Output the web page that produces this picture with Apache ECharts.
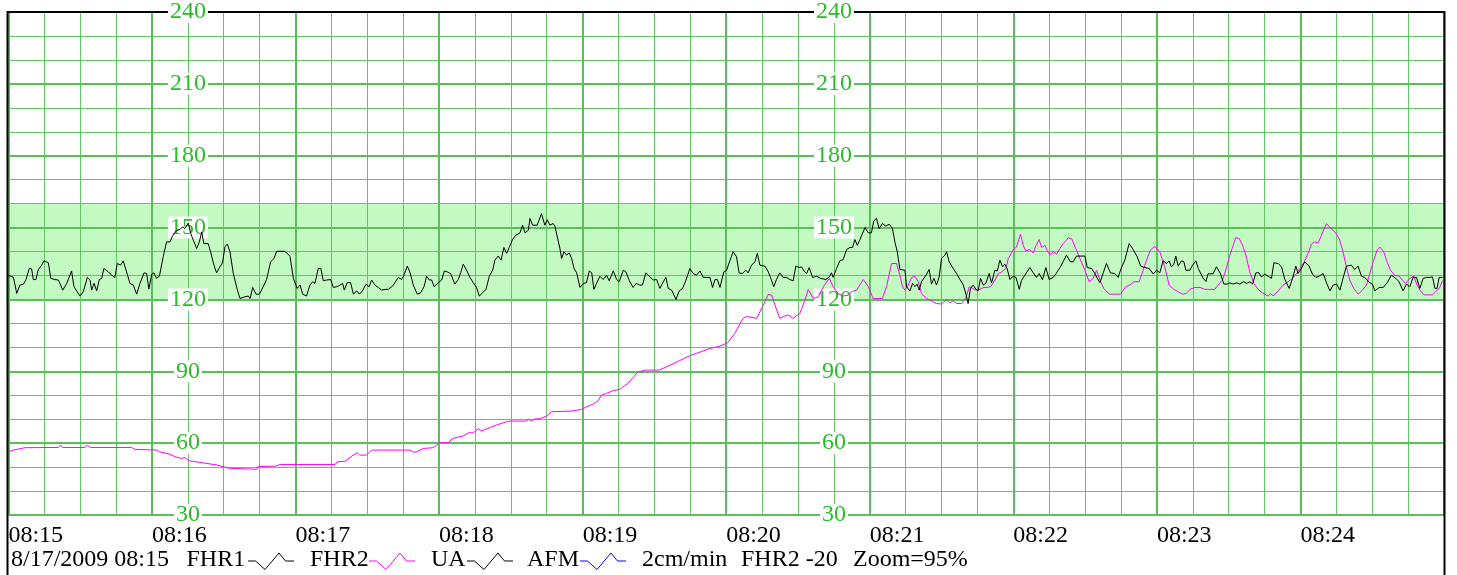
<!DOCTYPE html>
<html>
<head>
<meta charset="utf-8">
<script src="https://cdn.jsdelivr.net/npm/echarts@6/dist/echarts.min.js"></script>
<style>
html,body{margin:0;padding:0;background:#fff;}
#chart{width:1457px;height:575px;}
</style>
</head>
<body>
<div id="chart"></div>
<script>
// ---- data (time in seconds from 08:15:00, value in bpm) ----
const timeLabels = ['08:15','08:16','08:17','08:18','08:19','08:20','08:21','08:22','08:23','08:24'];
const yTicks = [30, 60, 90, 120, 150, 180, 210, 240];
const bandLow = 120;
const bandHigh = 160;

const fhr1 = [
[0,130.1],[2.1,129.2],[3.5,122.5],[4.8,126],[6.2,126.3],[7.4,128.3],[8.7,132.9],[9.7,132.8],[10.4,128.3],[11.5,128.3],
[12.5,132.5],[13.9,134.3],[14.9,136.1],[16.7,135.3],[17.7,128.8],[19.5,128.3],[20.9,128.1],[22.7,123.9],[24.4,126.7],[26.4,131.9],
[27.4,125.3],[29.9,121.4],[31.3,123.2],[33,129.2],[34.1,128.1],[34.8,123.9],[35.8,126.7],[36.9,123.6],[38,128.3],[39,128.8],
[39.9,132.9],[41.8,131.5],[43.6,129.7],[44.5,129.2],[45.5,135],[46.9,134.3],[48,136.1],[49.4,131.5],[50.8,126.7],[52.2,126],
[53.6,122.2],[55,126.7],[56.7,131.1],[57.8,130.8],[58.7,124.3],[59.9,130.5],[60.8,131.1],[61.9,128.8],[63.1,129.7],[64.7,137.8],
[66.1,144],[67.5,144],[68.6,146.4],[70.3,148.9],[71.7,149.2],[72.8,150.3],[73.8,149.6],[75.2,151.9],[76.2,147.5],[77.3,144.7],
[78.7,141.3],[79.8,144],[80.8,148.2],[81.7,143.3],[83.5,143.3],[84.5,139.9],[85.9,134.3],[87,131.1],[88.4,133.6],[89.5,135.3],
[90.5,142],[91.5,143.1],[92.6,139.9],[94,130.8],[95.7,123.9],[96.8,120.4],[98.9,121.1],[100.3,121.4],[101,120.4],[102.1,125],
[103.5,122.2],[104.9,122.2],[106.5,125.3],[107.9,128.3],[109.6,135.7],[111,137.1],[112.1,140.1],[115.6,140.1],[117.7,138],[119.1,128.8],
[120.7,124.6],[121.9,126],[123,122.2],[124.6,121.4],[126,126],[127.2,127.4],[128.1,126.7],[129.5,132.9],[130.6,132.9],[131.6,127.8],
[133,128.1],[134.7,128.3],[135.8,125],[137.2,125.3],[138.3,125.8],[139.7,126.7],[140.4,123.9],[141.6,127],[143,127],[144.2,122.2],
[145.5,123.6],[146.7,122.2],[148,123.6],[149.4,126.3],[150.8,125.3],[151.8,128.1],[153.2,126],[154.6,125],[156,123.9],[157.4,124.2],
[158.8,124.2],[160.6,125.6],[163,129.2],[164.3,128.3],[165.3,130.1],[166.7,133.9],[167.8,131.5],[169.2,126],[170.9,122.2],[172.3,122.8],
[173.7,125.3],[174.8,129.7],[175.9,128.1],[176.9,128.1],[177.9,125.3],[179.7,127],[181.1,128.1],[182.2,131.9],[183.4,131.5],[184.8,130.8],
[186.6,126.4],[188,128.3],[189,131.1],[190.1,134.7],[191.5,132.2],[192.9,129.2],[194.3,127],[195.7,124.9],[196.8,121.4],[198.2,122.8],
[199.6,124.2],[201,129.7],[202.4,132.2],[203.3,136.4],[204.7,138.1],[205.9,136.4],[207.1,141.7],[208.2,139.2],[209.3,141.7],[210.7,145],
[212.1,146.8],[213.8,147.8],[214.9,151],[215.9,147.8],[217.3,148.9],[218,153.8],[219.1,151],[221,151],[222.8,155.8],[224.2,151],
[225.2,153.3],[226.3,151],[227.7,151.7],[228.4,150.6],[229.4,146.1],[230.5,141.3],[231.2,137.1],[232.2,139.9],[233.3,138.5],[234.4,139.4],
[235.4,137.1],[236.4,132.9],[237.5,131.1],[238.9,125],[240.3,126.7],[241.6,127],[242.8,131.9],[243.8,131.1],[244.7,124.2],[245.8,126.7],
[247.2,129.7],[248.6,128.3],[250,130.1],[251.1,127.8],[252.8,131.9],[254.2,128.3],[255.3,127.4],[257,132.2],[258.1,131.5],[259.5,127.8],
[261.1,125],[262.5,126.7],[263.7,126],[265,126],[266.4,131.1],[267.8,129.7],[269.5,128.1],[270.9,128.3],[272.3,124.6],[273.7,127.4],
[274.8,129.2],[275.8,124.6],[277.2,123.9],[279,120],[280.4,123.6],[281.8,124.6],[283.2,128.1],[284.8,132.9],[286.2,130.8],[287.6,130.1],
[289,131.9],[290.4,129.2],[291.8,129.2],[293.2,129.2],[294.3,125],[295.3,128.3],[296.3,128.3],[297.4,125],[299,131.5],[300.2,132.2],
[301.5,136.1],[302.9,139.9],[304.3,137.8],[305.4,131.1],[306.8,130.8],[308.2,132.2],[309.2,131.1],[310.6,134.3],[312,135.7],[313,139.2],
[314.1,134.3],[316.2,133.9],[317.6,131.5],[318.5,129.2],[319.9,125.3],[321,128.3],[322.4,131.1],[323.8,129.2],[325.2,129.2],[326.6,128.3],
[328,127.8],[329.1,133.9],[330.5,133.3],[331.5,133.6],[332.5,131.9],[333.6,130.8],[334.7,133.3],[336.1,129.2],[337.8,129.7],[339.4,128.8],
[341.7,128.3],[343.1,129.4],[344,131.1],[344.7,129.2],[346.1,132.9],[347.5,136.1],[348.9,136.7],[350.3,140.8],[351.7,141.7],[352.8,141.7],
[353.8,145],[354.8,142.6],[355.9,145],[358,150],[359.4,147.8],[360.7,147.8],[361.7,152.8],[362.8,153.8],[363.9,149.6],[365.3,151.7],
[366.7,150.6],[368.1,151.4],[369.5,149.6],[370.5,144],[371.5,139.9],[372.6,132.5],[374.7,132.2],[375.4,125.3],[376.8,123.6],[377.9,126.7],
[378.9,125.3],[379.8,126.4],[380.7,123.9],[381.6,127.4],[383.5,130.1],[384.8,132.5],[385.8,126.4],[386.8,128.8],[387.9,126],[389,129.4],
[390,137.1],[391.4,138.5],[392.1,139.9],[393.2,135.7],[394.9,132.9],[396.3,130.8],[397.7,128.3],[399.1,126],[400.2,122.2],[401.1,118.3],
[402.1,124.6],[403.2,126],[404.4,124.2],[405.3,123.6],[406.3,128.8],[407.4,126],[408.5,126.7],[409.9,130.8],[410.9,126.9],[412.3,132.2],
[413.3,131.9],[414.4,136.4],[415.5,133.6],[416.5,134.7],[417.4,132.9],[418.6,128.3],[419.9,129.7],[421.1,129.2],[422.5,124.2],[423.4,127.9],
[424.8,130.1],[426.9,133.3],[428.3,131.1],[429.7,129.2],[430.8,130.8],[432.2,128.3],[433.6,133.3],[435,128.3],[436.7,129.2],[438.1,131.1],
[439.5,133.3],[440.8,135.7],[442.2,138.5],[443.9,135.7],[445,135.7],[446.4,138.1],[449.9,138.1],[450.9,133.3],[452.7,132.9],[454.1,130.8],
[455.1,128.8],[456.2,127],[457.6,131.1],[458.9,135],[460.6,131.1],[462.4,130.8],[463.8,129.2],[465.2,133.3],[466.6,136.4],[468.4,143.3],
[470.1,140.8],[471.8,137.8],[473.2,133.9],[475,133.3],[476.8,132.9],[478.5,130.6],[479.9,132.2],[481.2,131.1],[482.6,136.1],[484,135],
[485.1,136.1],[486.1,133.6],[487.1,134.7],[487.9,138.1],[488.9,133.9],[490.3,136.1],[491.3,135.7],[492.1,132.2],[493.8,132.2],[494.9,134.3],
[496.3,136.1],[497.3,132.9],[498,132.2],[499.3,128.9],[500.5,127.5],[501.4,130.7],[503.5,130.7],[504.9,133.6],[506.6,130.7],[508,126.4],
[509.4,126.4],[510.5,126.9],[511.9,126.4],[513.3,126.9],[514.7,126.4],[516.1,127.4],[517.5,126.7],[518.9,127.4],[520,126.4],[521.4,131.1],
[522.7,131.1],[523.7,129.4],[525.1,130.6],[526.9,129.4],[527.9,128.8],[528.9,135.3],[530.7,135],[532.1,133.6],[533.5,128.3],[535.3,124.6],
[536.7,128.8],[538.1,133.9],[539,130.8],[540.4,132.9],[541.8,135.7],[542.5,136.4],[543.6,133.9],[545,130.6],[546.4,129.2],[547.8,129.7],
[549.5,130.8],[550.9,126.9],[552.3,123.6],[553.7,126],[555.1,126.4],[556.5,123.9],[557.8,128.8],[559.2,133.9],[561.3,134.3],[562.7,132.5],
[564.1,133.9],[565.5,129.7],[566.9,129.2],[569,126.9],[570.1,126.4],[571.1,123.6],[572.9,125],[574.6,125],[576.2,126.9],[578,130.1],
[579.9,128.8],[581.2,127.4],[582.9,123.6],[584.3,126.4],[585.7,125.3],[587.1,129.2],[588.5,129.2],[589.9,124.6],[591.3,128.8],[592.7,129.2],
[594.1,129.2],[595.2,129.4],[596.2,124.6],[597.1,124.6],[598,129.2],[599.4,129.2]
];

const fhr2 = [
[0,56.4],[2.1,57.1],[6.9,58.1],[20.9,58.2],[21.6,59.1],[22.7,58.2],[32,58.2],[33,59.1],[34.4,58.2],[51.5,58.2],
[52.9,57.4],[62,57.1],[63.1,56.4],[67.5,55.4],[69.6,54.3],[72.4,53.6],[73.8,54],[75.2,52.7],[81.2,51.8],[87,50.9],
[92.3,49.5],[103.8,49.1],[104.4,50.2],[111.8,50.4],[112.4,51],[113.5,51.1],[136.5,51.1],[137.4,52.2],[140.7,52.4],[143.5,54.6],
[145.8,56],[146.9,55],[149.7,55],[151.8,57.1],[167.8,57.1],[169.2,56.3],[170.6,56.3],[173.4,57.8],[177.6,58.1],[180.1,60.2],
[183.8,60.2],[185.7,62],[190.1,63],[192.2,64.3],[194.3,64.3],[196.4,66],[197.8,65.1],[199.9,66],[202,66.8],[204.7,67.8],
[208.2,68.9],[209.6,69.2],[216.6,69.2],[217.3,70.1],[218.3,69.2],[220.1,70.1],[222.1,70.2],[224.9,71.3],[227,73.1],[235.4,73.4],
[239.6,74.1],[241.7,75.2],[244.4,76.3],[246.5,77.7],[247.9,80.1],[250,80.8],[252.8,81.9],[255.6,82.5],[256.6,83.3],[259,85],
[260.1,86.4],[263,89.5],[266,90.5],[272,90.5],[276.5,92.5],[280.6,94.5],[284.8,96.5],[289,98],[293.2,99.5],[297.4,100.5],
[300.7,102],[303.7,106],[305.8,110],[307.1,112.1],[308.5,112.9],[312.7,112.1],[315.5,117.6],[317.6,122.1],[319,121.8],[320.4,117.6],
[322.4,112.1],[324.5,113.1],[325.9,113.5],[328,112.1],[330.8,114.2],[332.9,119.7],[334.3,124.2],[336.4,120.4],[338.5,121.1],[340.6,125.3],
[343.1,128.8],[344.7,125.3],[346.8,122.5],[348.9,121.4],[351,121.8],[352.4,123.2],[354.5,123.9],[357.3,128.3],[359.4,125.3],[361.4,120.4],
[365.3,120.4],[367,125.3],[369.1,135],[371.2,135],[372.6,130.1],[373.7,125.3],[374.7,123.9],[376.1,126],[377.5,129.2],[378.9,129.7],
[380.3,127.4],[381.6,122.5],[383.7,120.4],[385.8,119.4],[387.9,118.3],[390,118.1],[392.1,120],[393.5,118.6],[394.9,119.4],[396.3,118.3],
[398.4,118.3],[400.2,120.8],[401.6,125.3],[403,124.6],[404.4,123.9],[406,124.2],[407.7,125],[409.1,125],[410.5,125.3],[412.3,128.1],
[413.7,130.8],[415.1,131.5],[416.9,132.9],[417.9,137.1],[419.9,140.6],[421.3,141.9],[423,147.2],[424.1,142.6],[425.2,140.3],[426.9,140.8],
[428.3,139.4],[429.4,142.2],[430.8,145],[431.8,141.7],[433.2,142.6],[434.2,140.3],[435.3,138.5],[436.7,139.9],[438.1,138.9],[439.5,141.3],
[440.8,143.3],[442.2,144.7],[442.9,145.8],[444.3,145.4],[445,145],[446.4,140.6],[447.8,137.1],[449.9,132.2],[451.7,127.4],[453.4,128.8],
[454.8,132.2],[456.2,128.1],[457.8,124.6],[460.1,122.2],[462.4,122.2],[464.8,122.2],[467,125.3],[468.7,126],[470.4,127.4],[472.6,127.4],
[474,131.5],[475.7,136.4],[477.3,140.6],[479.1,142.2],[481.2,139.9],[483.3,133.6],[485.1,126],[487.1,124.2],[488.9,123.2],[490.7,122.2],
[492.4,122.5],[493.8,124.2],[495.9,125],[498,125],[500,124.2],[502.1,124.2],[504.2,124.2],[505.6,126],[507.4,128.1],[508.8,132.2],
[510.5,138.5],[511.9,142.6],[513,145.8],[514.4,145.4],[515.8,142.6],[517.2,138.5],[518.8,131.5],[520.5,126.7],[522.3,124.2],[524.4,122.5],
[526.5,121.4],[527.5,122.5],[528.6,121.4],[530.7,123.6],[532.8,126],[534.9,127.4],[536.7,128.8],[538.4,130.8],[540,133.3],[541.4,135.3],
[543.2,139.2],[544.6,143.1],[546,144],[547.4,143.6],[548.8,146.8],[549.8,149.2],[550.9,151.7],[552.3,150],[554.4,148.2],[556.2,145.4],
[557.6,140.6],[559.2,133.6],[560.6,128.1],[562.3,124.6],[564.1,122.2],[565.9,123.9],[567.6,126],[569,130.8],[570.4,135.7],[572.1,140.8],
[573.2,141.9],[574.8,139.9],[576.2,135.7],[577.6,132.2],[579.4,130.1],[581.3,129.7],[582.6,128.1],[584,126.7],[585.7,128.8],[587.4,129.7],
[588.8,125.8],[590.2,123.6],[591.6,121.9],[593.4,121.9],[595.2,121.9],[596.6,123.3],[598.2,125],[599.4,127.8]
];

const headerText = '8/17/2009 08:15';
const legendItems = [
  { label: 'FHR1', color: '#000000' },
  { label: 'FHR2', color: '#ff00ff' },
  { label: 'UA',   color: '#000000' },
  { label: 'AFM',  color: '#0000ff' }
];
const footerItems = ['2cm/min', 'FHR2 -20', 'Zoom=95%'];

// ---- layout / style ----
const FONT = '"Liberation Serif", "Times New Roman", serif';
const LABEL_GREEN = '#28bd28';
const MAJOR = '#5cbd5c';
const MINOR = '#62c462';
const BAND = '#c2fac2';
const footY = 560;
const headerX = 11;
const legendTextX = [186.5, 310, 431, 527];
const legendIconX = [248, 369, 467, 580];
const footerX = [642, 741, 853];
const iconShape = [[0,0],[7.5,0],[17,8.5],[31,-8],[37.5,0],[46,0]];

const chart = echarts.init(document.getElementById('chart'));

function labelAxis(offset) {
  return {
    type: 'value', min: yTicks[0], max: yTicks[yTicks.length - 1], interval: 30,
    position: 'left', offset: offset, z: 3,
    axisLine: { show: false }, axisTick: { show: false }, splitLine: { show: false },
    axisLabel: {
      show: true, margin: 0, align: 'center', verticalAlign: 'middle',
      color: LABEL_GREEN, fontSize: 24, fontFamily: FONT,
      backgroundColor: '#ffffff', padding: [1, 2, 1, 2], lineHeight: 20
    }
  };
}

const graphics = [
  { type: 'polyline', z: 1, silent: true,
    shape: { points: [[7.5, 575], [7.5, 12], [1444.5, 12], [1444.5, 575]] },
    style: { stroke: '#000', lineWidth: 2, fill: null } },
  { type: 'text', z: 5, x: headerX, y: footY,
    style: { text: headerText, fontSize: 24, fontFamily: FONT, fill: '#000', verticalAlign: 'middle' } }
];
legendItems.forEach((it, i) => {
  graphics.push({ type: 'text', z: 5, x: legendTextX[i], y: footY,
    style: { text: it.label, fontSize: 24, fontFamily: FONT, fill: '#000', verticalAlign: 'middle' } });
  graphics.push({ type: 'polyline', z: 5, x: legendIconX[i], y: footY + 1,
    shape: { points: iconShape }, style: { stroke: it.color, lineWidth: 1, fill: null } });
});
footerItems.forEach((t, i) => {
  graphics.push({ type: 'text', z: 5, x: footerX[i], y: footY,
    style: { text: t, fontSize: 24, fontFamily: FONT, fill: '#000', verticalAlign: 'middle' } });
});

const option = {
  animation: false,
  backgroundColor: '#ffffff',
  grid: { left: 8.4, right: 13, top: 12, bottom: 60, containLabel: false },
  xAxis: {
    type: 'value', min: 0, max: 600, interval: 60, z: 0,
    axisLine: { show: false }, axisTick: { show: false },
    axisLabel: {
      show: true, align: 'left', margin: 9, color: '#000', fontSize: 24, fontFamily: FONT,
      showMaxLabel: false,
      formatter: v => timeLabels[Math.round(v / 60)] || ''
    },
    splitLine: { show: true, lineStyle: { color: MAJOR, width: 2 } },
    minorTick: { show: false, splitNumber: 4 },
    minorSplitLine: { show: true, lineStyle: { color: MINOR, width: 1 } }
  },
  yAxis: [
    {
      type: 'value', min: yTicks[0], max: yTicks[yTicks.length - 1], interval: 30, z: 0,
      axisLine: { show: false }, axisTick: { show: false }, axisLabel: { show: false },
      splitLine: { show: true, lineStyle: { color: MAJOR, width: 2 } },
      minorTick: { show: false, splitNumber: 3 },
      minorSplitLine: { show: true, lineStyle: { color: MINOR, width: 1 } }
    },
    labelAxis(-179.5),
    labelAxis(-825.6)
  ],
  graphic: graphics,
  series: [
    {
      type: 'custom', name: 'normalBand', silent: true, z: -1, clip: true,
      data: [[0, bandLow, 600, bandHigh]],
      encode: { x: [0, 2], y: [1, 3] },
      renderItem: (params, api) => {
        const p1 = api.coord([api.value(0), api.value(3)]);
        const p2 = api.coord([api.value(2), api.value(1)]);
        return {
          type: 'rect',
          shape: { x: p1[0], y: p1[1], width: p2[0] - p1[0], height: p2[1] - p1[1] },
          style: { fill: BAND }
        };
      }
    },
    { type: 'line', name: 'FHR2', data: fhr2, symbol: 'none', z: 4,
      lineStyle: { color: '#ff00ff', width: 1 } },
    { type: 'line', name: 'FHR1', data: fhr1, symbol: 'none', z: 5,
      lineStyle: { color: '#000000', width: 1 } }
  ]
};
chart.setOption(option);
</script>
</body>
</html>
